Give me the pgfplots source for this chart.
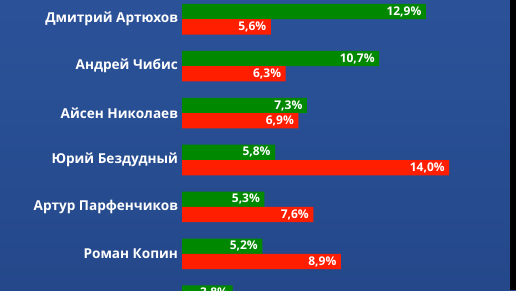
\documentclass[border=0pt]{standalone}
\usepackage{fontspec}
\setmainfont{Open Sans}
\usepackage{pgfplots}
\pgfplotsset{compat=1.18}
\definecolor{bgtop}{RGB}{43,82,153}
\definecolor{bgbot}{RGB}{36,72,138}
\definecolor{gbar}{RGB}{0,136,0}
\definecolor{rbar}{RGB}{255,30,0}
\begin{document}
\begin{tikzpicture}[x=1pt,y=1pt]
\clip (0,0) rectangle (516,290);
\shade[top color=bgtop, bottom color=bgbot] (0,0) rectangle (516,290);
\fill[black] (510,0) rectangle (516,290);
\begin{axis}[
  at={(182pt,-34.24pt)}, anchor=south west,
  scale only axis, width=328pt, height=324.24pt,
  xmin=1.42, xmax=16.86, ymin=-6.5, ymax=0.41,
  xbar, bar width=15.3pt,
  axis line style={draw=none},
  xtick=\empty,
  ytick={0,-1,-2,-3,-4,-5},
  yticklabels={Дмитрий Артюхов, Андрей Чибис, Айсен Николаев, Юрий Бездудный, Артур Парфенчиков, Роман Копин},
  major tick length=0pt,
  yticklabel style={text=white, font=\bfseries\fontsize{13.6}{16}\selectfont, anchor=east, xshift=-0.5pt},
  point meta=x,
  nodes near coords={\pgfmathprintnumber[assume math mode=true,fixed,fixed zerofill,precision=1,use comma]{\pgfplotspointmeta}\%},
  every node near coord/.append style={anchor=east, text=white, font=\bfseries\fontsize{12}{14}\selectfont, xshift=-1pt},
]
\addplot[draw=none, fill=gbar, bar shift=7.65pt] coordinates {(12.9,0) (10.7,-1) (7.3,-2) (5.8,-3) (5.3,-4) (5.2,-5) (3.8,-6)};
\addplot[draw=none, fill=rbar, bar shift=-7.65pt] coordinates {(5.6,0) (6.3,-1) (6.9,-2) (14.0,-3) (7.6,-4) (8.9,-5)};
\draw[white, line width=1pt] ([xshift=-1pt]rel axis cs:0,0) -- ([xshift=-1pt]rel axis cs:0,1);
\end{axis}
\end{tikzpicture}
\end{document}
